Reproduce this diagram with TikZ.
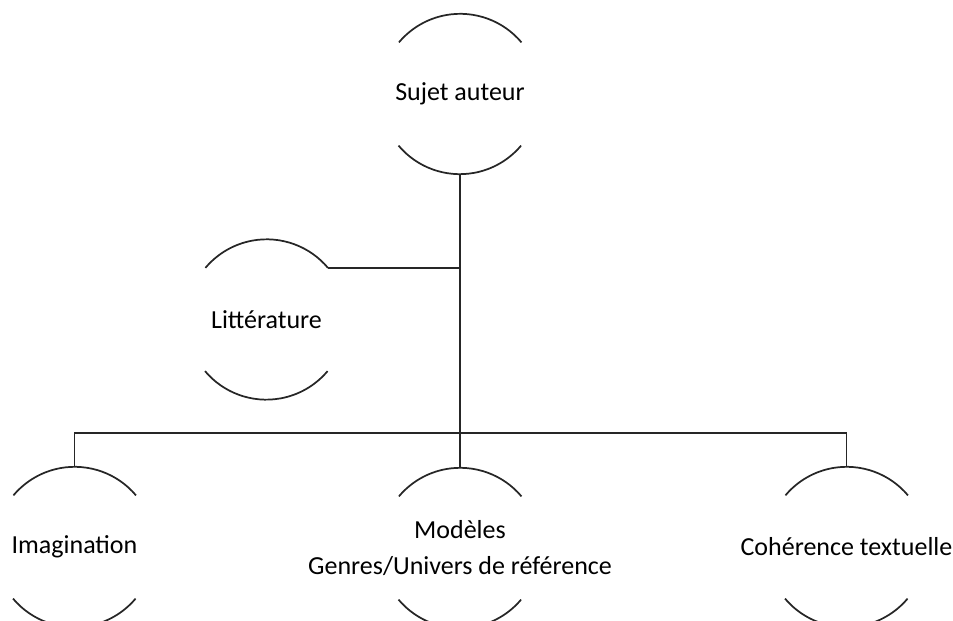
\documentclass[tikz,border=0pt]{standalone}
\usepackage{fontspec}
\setmainfont{Carlito}
\begin{document}
\begin{tikzpicture}[x=0.75pt,y=0.75pt,
  ink/.style={draw=black!85,line width=1.3pt},
  txt/.style={align=center,text=black,font=\fontsize{19.5}{27.7}\selectfont},
  bubble/.style={circle,minimum size=120pt,inner sep=0pt,
    label={[txt]center:#1}}]
\useasboundingbox (0,0) rectangle (953,621);
\node[bubble={Sujet auteur}] (top) at (460,527) {};
\node[bubble={Littérature}] (lit) at (266.5,301.5) {};
\node[bubble={Imagination}] (ima) at (74.5,74) {};
\node[bubble={Modèles\\Genres/Univers de référence}] (mod) at (460,73) {};
\node[bubble={Cohérence textuelle}] (coh) at (846.5,74) {};
\foreach \n in {top,lit,ima,mod,coh}{
  \draw[ink] (\n.40) arc (40:140:80);
  \draw[ink] (\n.220) arc (220:320:80);
}
\coordinate (bus) at (460,188);
\draw[ink] (top.south) -- (bus);
\draw[ink] (lit.40) -- (lit.40 -| top.south);
\draw[ink] (ima.north) |- (bus) -| (coh.north);
\draw[ink] (bus) -- (mod.north);
\end{tikzpicture}
\end{document}
